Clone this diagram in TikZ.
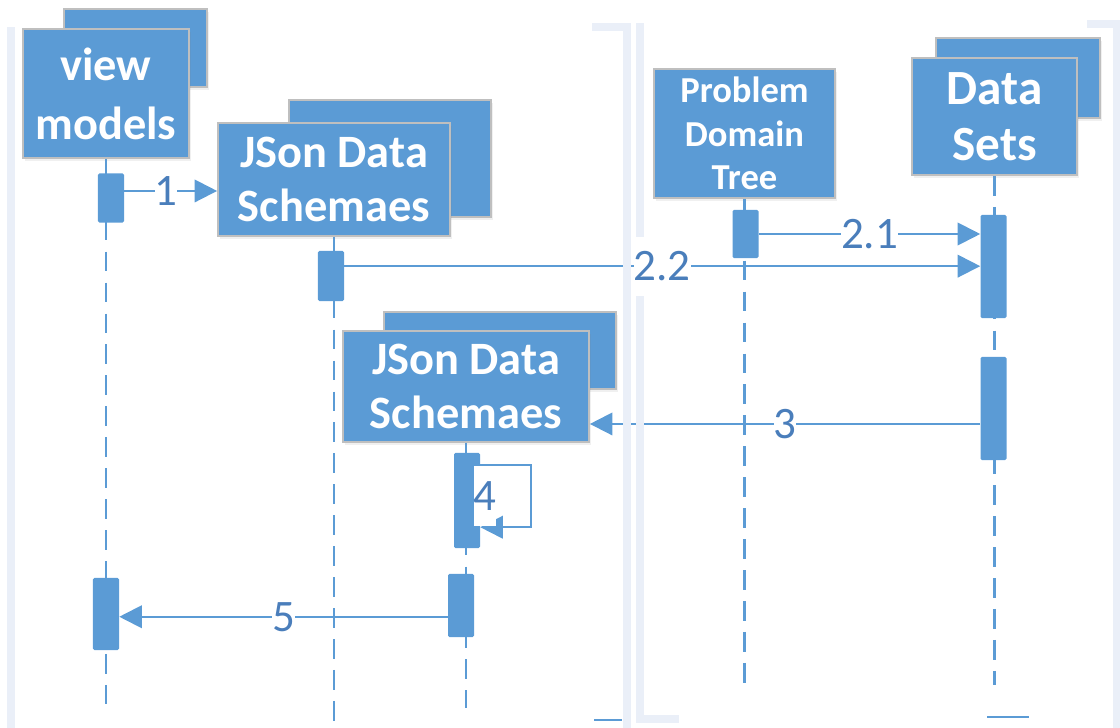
\documentclass[tikz,border=0pt]{standalone}
\usepackage{fontspec}
\setmainfont{Carlito}
\usepackage{tikz}
\usetikzlibrary{shapes, arrows.meta, shadows, calc}
\definecolor{boxblue}{RGB}{91,155,213}
\definecolor{boxedge}{RGB}{191,191,191}
\definecolor{labelblue}{RGB}{74,126,187}
\definecolor{framegrey}{RGB}{234,239,248}
\tikzstyle{object} = [rectangle, draw=boxedge, line width=1.2pt, fill=boxblue, text=white, align=center, inner sep=0pt, font=\bfseries, drop shadow={opacity=0.12, shadow xshift=1.5pt, shadow yshift=-2pt}]
\tikzstyle{activation} = [rectangle, fill=boxblue, minimum width=0.65cm, inner sep=0pt, rounded corners=1pt]
\tikzstyle{lifeline} = [draw=boxblue, line width=1.8pt, dash pattern=on 14pt off 8pt]
\tikzstyle{connector} = [draw=boxblue, line width=1.4pt, -{Triangle[length=16pt, width=16pt]}]
\tikzstyle{msglabel} = [fill=white, text=labelblue, inner xsep=0pt, inner ysep=0pt, minimum height=42pt, font=\fontsize{32}{32}\selectfont]
\tikzstyle{frame} = [draw=framegrey, line width=5pt]

\begin{document}
\begin{tikzpicture}[x=0.025cm, y=-0.025cm]
\useasboundingbox (0,0) rectangle (1120,728);

% objects, back copies first
\node [object, minimum width=3.575cm, minimum height=1.95cm] at (135.5,48) (vm_back) {};
\node [object, minimum width=4.15cm, minimum height=3.225cm, font=\bfseries\fontsize{33}{42}\selectfont] at (106,93.5) (vm) {view\\models};

\node [object, minimum width=5.05cm, minimum height=2.925cm] at (390,158.5) (js1_back) {};
\node [object, minimum width=5.8cm, minimum height=2.825cm, font=\bfseries\fontsize{33}{38}\selectfont] at (334,179.5) (js1) {JSon Data\\Schemaes};

\node [object, minimum width=5.8cm, minimum height=1.925cm] at (500,350.5) (js2_back) {};
\node [object, minimum width=6.15cm, minimum height=2.775cm, font=\bfseries\fontsize{33}{38}\selectfont] at (466,386.5) (js2) {JSon Data\\Schemaes};

\node [object, minimum width=4.525cm, minimum height=3.225cm, font=\bfseries\fontsize{26}{31}\selectfont] at (744.5,133.5) (pdt) {Problem\\Domain\\Tree};

\node [object, minimum width=4.1cm, minimum height=2cm] at (1018,78) (ds_back) {};
\node [object, minimum width=4.125cm, minimum height=2.925cm, font=\bfseries\fontsize{35}{40}\selectfont] at (994.5,116.5) (ds) {Data\\Sets};

% lifelines
\coordinate (vm_end) at (106,708);
\coordinate (js1_end) at (334,722);
\coordinate (js2_end) at (466,708);
\coordinate (pdt_end) at (744.5,685);
\coordinate (ds_end) at (994.5,685);
\path [lifeline] (vm.south) -- (vm_end);
\path [lifeline] (js1.south) -- (js1_end);
\path [lifeline] (js2.south) -- (js2_end);
\path [lifeline] (pdt.south) -- (pdt_end);
\path [lifeline] (ds.south) -- (ds_end);

% activations
\node [activation, minimum height=1.225cm] at (111,198) (a1) {};
\node [activation, minimum height=1.25cm] at (331,276) (a2) {};
\node [activation, minimum height=1.2cm] at (745.5,234) (a3) {};
\node [activation, minimum height=2.575cm] at (993.5,266.5) (a4) {};
\node [activation, minimum height=2.575cm] at (993.5,408.5) (a5) {};
\node [activation, minimum height=2.375cm] at (467,500.5) (a6) {};
\node [activation, minimum height=1.575cm] at (461,605.5) (a7) {};
\node [activation, minimum height=1.8cm] at (106,614) (a8) {};

% messages
\coordinate (m1s) at ([yshift=5pt]a1.east);
\coordinate (m22s) at ([yshift=7pt]a2.east);
\coordinate (m3s) at ([yshift=-11pt]a5.west);
\coordinate (m4s) at ([yshift=25pt]a6.east);
\coordinate (m4e) at ([yshift=-19pt]a6.east);
\coordinate (m5s) at ([yshift=-8pt]a7.west);

\path [connector] (m1s) -- (m1s -| js1.west);
\path [connector] (a3.east) -- (a3.east -| a4.west);
\path [connector] (m22s) -- (m22s -| a4.west);
\path [connector] (m3s) -- (m3s -| js2.east);
\path [connector] (m4s) -- ++(51,0) |- (m4e);
\path [connector] (m5s) -- (m5s -| a8.east);

% frames
\draw [frame] (11,27) -- (11,728);
\draw [frame] (592,27) -- (627,27) -- (627,728);
\draw [frame] (640,23) -- (640,719) -- (679,719);
\draw [frame] (1087,24) -- (1117,24) -- (1117,728);
\draw [boxblue, line width=1.8pt] (594,720) -- (622,720);
\draw [boxblue, line width=1.8pt] (987,717) -- (1029,717);

% labels
\node [msglabel] at ($(m1s)!0.45!(m1s -| js1.west)$) (l1) {1};
\node [msglabel] at ($(a3.east)!0.5!(a3.east -| a4.west)$) (l21) {2.1};
\node [msglabel] at ($(m22s)!0.5!(m22s -| a4.west)$) (l22) {2.2};
\node [msglabel] at ($(m3s)!0.5!(m3s -| js2.east)$) (l3) {3};
\node [msglabel] at (485,496) (l4) {4};
\node [msglabel] at ($(m5s)!0.5!(m5s -| a8.east)$) (l5) {5};
\end{tikzpicture}
\end{document}
